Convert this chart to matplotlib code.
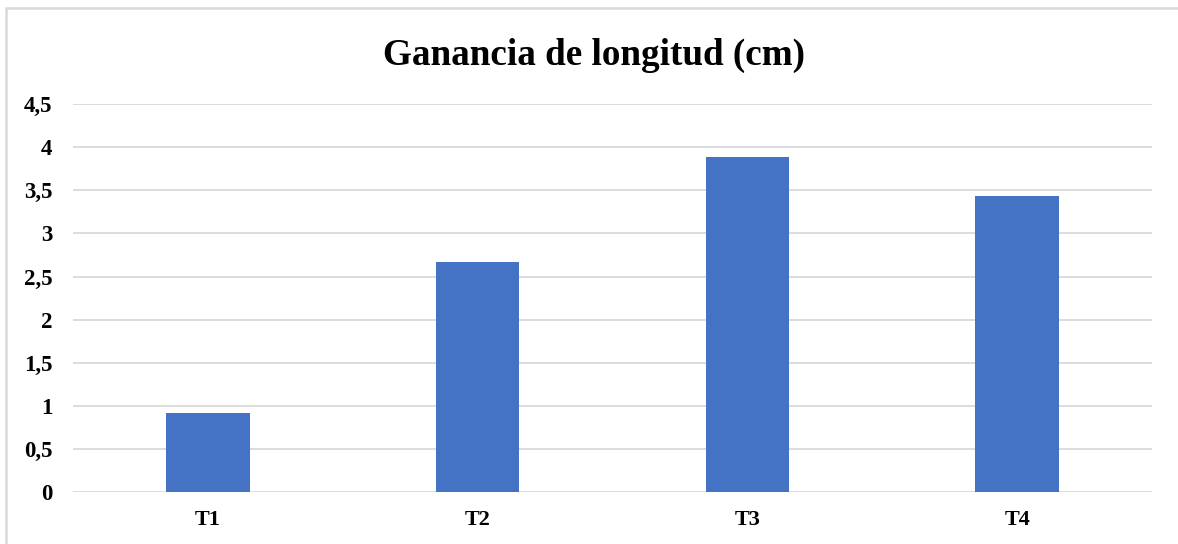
import matplotlib.pyplot as plt
from matplotlib.patches import Rectangle

# data
categories = ["T1", "T2", "T3", "T4"]
ganancia = [0.92, 2.67, 3.89, 3.43]
y_ticks = [0, 0.5, 1, 1.5, 2, 2.5, 3, 3.5, 4, 4.5]

plt.rcParams['font.family'] = ['Liberation Serif', 'DejaVu Serif']

fig = plt.figure(figsize=(11.78, 5.44), dpi=100)
ax = fig.add_axes([0.062, 0.0956, 0.916, 0.713])

ax.bar(categories, ganancia, width=0.31, color="#4472c4", zorder=3)

ax.set_ylim(0, 4.5)
ax.set_xlim(-0.5, 3.5)
ax.set_yticks(y_ticks)
ax.set_yticklabels([f"{v:g}".replace(".", ",") for v in y_ticks])
ax.yaxis.grid(True, color="#d9d9d9", linewidth=1.3, zorder=0)
ax.tick_params(length=0)
ax.tick_params(axis='y', pad=15, labelsize=16.5)
ax.tick_params(axis='x', pad=13, labelsize=16)
for lbl in ax.get_xticklabels() + ax.get_yticklabels():
    lbl.set_fontweight('bold')
for s in ax.spines.values():
    s.set_visible(False)

fig.text(0.504, 0.898, "Ganancia de longitud (cm)", ha='center', va='center',
         fontsize=26.7, fontweight='bold')

# light chart frame; its right and bottom edges fall outside the image
fig.patches.append(Rectangle((6 / 1178, -0.05), 1.1, 1 - 7.5 / 544 + 0.05,
                             transform=fig.transFigure, fill=False,
                             edgecolor="#d9d9d9", linewidth=1.8))

plt.savefig("out.png", dpi=100)
